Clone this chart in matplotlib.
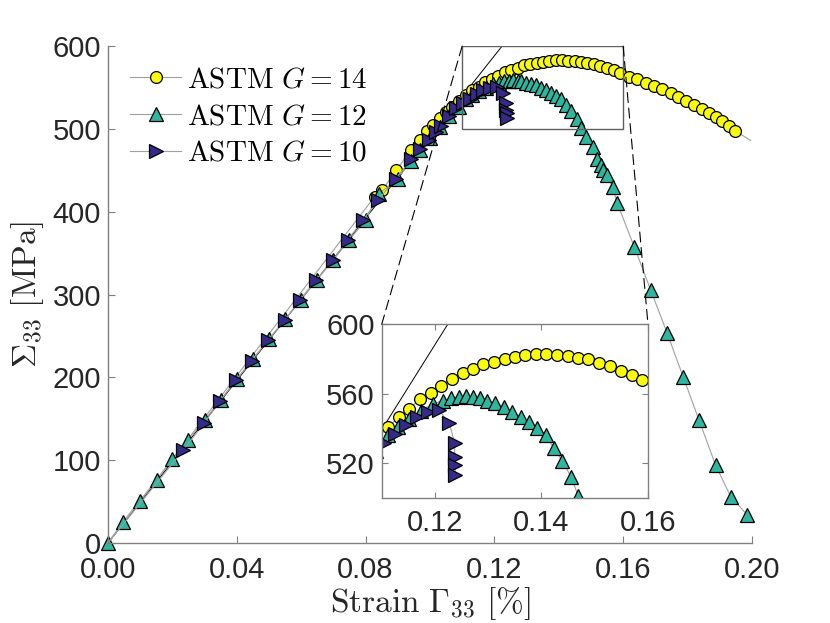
import matplotlib
matplotlib.use('Agg')
from matplotlib import pyplot as plt
from matplotlib.patches import Rectangle, ConnectionPatch
from matplotlib.ticker import FormatStrFormatter

plt.rcParams['font.family'] = ['Liberation Sans', 'DejaVu Sans']
plt.rcParams['mathtext.fontset'] = 'cm'

# ASTM G = 14 (first and last points are line only)
g14_strain = [0.0, 0.0828, 0.0852, 0.0895, 0.0942, 0.0968, 0.0990, 0.1010, 0.1030, 0.1050, 0.1070,
              0.1090, 0.1112, 0.1132, 0.1152, 0.1171, 0.1193, 0.1212, 0.1232, 0.1252, 0.1272,
              0.1291, 0.1311, 0.1332, 0.1350, 0.1370, 0.1390, 0.1409, 0.1430, 0.1450, 0.1469,
              0.1488, 0.1508, 0.1528, 0.1549, 0.1570, 0.1589, 0.1619, 0.1644, 0.1670, 0.1696,
              0.1722, 0.1748, 0.1771, 0.1794, 0.1820, 0.1844, 0.1867, 0.1887, 0.1908, 0.1929,
              0.1947, 0.1996]
g14_stress = [0.0, 418, 426, 450, 475, 487, 497, 505, 513, 520, 527,
              534, 540.6, 546.4, 551.2, 556.7, 560.6, 564.4, 568.3, 571.7, 574.0,
              576.9, 578.4, 579.8, 581.3, 582.3, 582.7, 582.7, 582.3, 581.9, 580.7,
              579.8, 577.9, 575.9, 573.0, 570.7, 567.9, 563, 560, 556, 552,
              548, 543, 539, 534, 529, 524, 519, 514, 509, 503,
              498, 486]

# ASTM G = 12
g12_strain = [0.0, 0.0047, 0.0099, 0.0151, 0.0199, 0.0249, 0.0301, 0.0350, 0.0400, 0.0450,
              0.0500, 0.0550, 0.0600, 0.0650, 0.0700, 0.0750, 0.0800, 0.0843, 0.0900, 0.0940,
              0.0970, 0.1000, 0.1030, 0.1060, 0.1090, 0.1112, 0.1131, 0.1151, 0.1173, 0.1196,
              0.1215, 0.1230, 0.1246, 0.1259, 0.1272, 0.1284, 0.1297, 0.1313, 0.1329, 0.1345,
              0.1361, 0.1376, 0.1392, 0.1408, 0.1423, 0.1439, 0.1456, 0.1469, 0.1484, 0.1505,
              0.1520, 0.1531, 0.1538, 0.1549, 0.1567, 0.1582, 0.1634, 0.1686, 0.1737, 0.1786,
              0.1836, 0.1887, 0.1934, 0.1985]
g12_stress = [0, 25.7, 51, 76, 101, 124, 149, 173, 198, 222,
              246, 270, 294, 318, 342, 366, 390, 422, 440, 461,
              475, 489, 502, 515, 527, 536, 541, 545.5, 550, 554,
              556, 557.3, 558.2, 558.6, 558.2, 557.3, 556, 554.4, 552.5, 549.6,
              546.7, 543.8, 540, 536.2, 528.5, 521.3, 511.8, 501, 490.5, 478,
              464, 456, 450, 444, 430, 410, 358, 305, 253, 201,
              148, 94, 56, 34]

# ASTM G = 10 (first point is line only)
g10_strain = [0.0, 0.0234, 0.0298, 0.0347, 0.0399, 0.0446, 0.0497, 0.0549, 0.0595, 0.0647,
              0.0699, 0.0745, 0.0792, 0.0838, 0.0895, 0.0942, 0.0968, 0.0998, 0.1018, 0.1035,
              0.1060, 0.1081, 0.1104, 0.1125, 0.1145, 0.1166, 0.1187, 0.1207, 0.1227, 0.1237,
              0.1237, 0.1238, 0.1238]
g10_stress = [0.0, 112, 144.5, 171, 197, 220, 245, 269, 293, 318,
              342, 366, 390, 414, 440, 464, 476, 487, 496, 504,
              516, 525, 531.7, 536.7, 541.9, 546.4, 549.6, 550.6, 542.9, 531.4,
              523.3, 518.9, 513.1]

# linear elastic reference
elastic_strain = [0.0, 0.1224]
elastic_stress = [0.0, 600.0]

zoom_x = (0.11, 0.16)
zoom_y = (500, 600)

yellow = '#F9FB0E'
teal = '#2EB79F'
blue = '#352A87'
linegray = '#a0a0a0'
labelcol = '#262626'
spinecol = '#808080'


def draw_curves(ax, clip=True):
    ax.plot(elastic_strain, elastic_stress, color='black', lw=0.7, zorder=1)
    ax.plot(g14_strain, g14_stress, color=linegray, lw=0.8, marker='o', ms=8.5,
            mfc=yellow, mec='black', mew=0.9, markevery=list(range(1, len(g14_strain) - 1)),
            label=r'$\mathrm{ASTM}\ G = 14$', clip_on=clip)
    ax.plot(g12_strain, g12_stress, color=linegray, lw=0.8, marker='^', ms=10,
            mfc=teal, mec='black', mew=0.9, label=r'$\mathrm{ASTM}\ G = 12$', clip_on=clip)
    ax.plot(g10_strain, g10_stress, color=linegray, lw=0.8, marker='>', ms=10,
            mfc=blue, mec='black', mew=0.9, markevery=list(range(1, len(g10_strain))),
            label=r'$\mathrm{ASTM}\ G = 10$', clip_on=clip)


fig = plt.figure(figsize=(8.3, 6.23), dpi=100)
ax = fig.add_axes([0.130, 0.1284, 0.776, 0.7976])
draw_curves(ax, clip=False)
ax.set_xlim(0, 0.2)
ax.set_ylim(0, 600)
ax.set_xticks([0.0, 0.04, 0.08, 0.12, 0.16, 0.20])
ax.set_yticks([0, 100, 200, 300, 400, 500, 600])
ax.xaxis.set_major_formatter(FormatStrFormatter('%.2f'))
ax.tick_params(direction='in', length=5, width=0.8, color=spinecol, labelcolor=labelcol,
               labelsize=21)
ax.tick_params(axis='x', pad=9)
ax.tick_params(axis='y', pad=5)
for s in ['top', 'right']:
    ax.spines[s].set_visible(False)
for s in ['left', 'bottom']:
    ax.spines[s].set_color(spinecol)
    ax.spines[s].set_linewidth(1)
ax.set_xlabel(r'$\mathrm{Strain}\ \Gamma_{33}\ [\%]$', fontsize=24, color=labelcol, labelpad=1)
ax.set_ylabel(r'$\Sigma_{33}\ \mathrm{[MPa]}$', fontsize=24, color=labelcol, labelpad=5)

ax.add_patch(Rectangle((zoom_x[0], zoom_y[0]), zoom_x[1] - zoom_x[0], zoom_y[1] - zoom_y[0],
                       fill=False, ec='#606060', lw=1, zorder=5))

ax.legend(loc='upper left', bbox_to_anchor=(0.157, 0.895), bbox_transform=fig.transFigure,
          frameon=False, fontsize=21, handlelength=1.75, handletextpad=0.2, labelspacing=0.3,
          borderpad=0, borderaxespad=0)

axin = fig.add_axes([0.4599, 0.2011, 0.3208, 0.2784])
draw_curves(axin)
axin.set_xlim(*zoom_x)
axin.set_ylim(*zoom_y)
axin.set_xticks([0.12, 0.14, 0.16])
axin.set_yticks([520, 560, 600])
axin.xaxis.set_major_formatter(FormatStrFormatter('%.2f'))
axin.tick_params(direction='in', length=4, width=0.8, color=spinecol, labelcolor=labelcol,
                 labelsize=21, top=True, right=True)
axin.tick_params(axis='x', pad=8)
axin.tick_params(axis='y', pad=5)
for s in axin.spines.values():
    s.set_color(spinecol)
    s.set_linewidth(1)

for xa, xb in [((zoom_x[0], zoom_y[1]), (0, 1)), ((zoom_x[1], zoom_y[1]), (1, 1))]:
    con = ConnectionPatch(xyA=xa, coordsA=ax.transData, xyB=xb, coordsB=axin.transAxes,
                          color='black', lw=0.8, linestyle=(0, (9, 5)))
    fig.add_artist(con)

fig.savefig('out.png', dpi=100)
